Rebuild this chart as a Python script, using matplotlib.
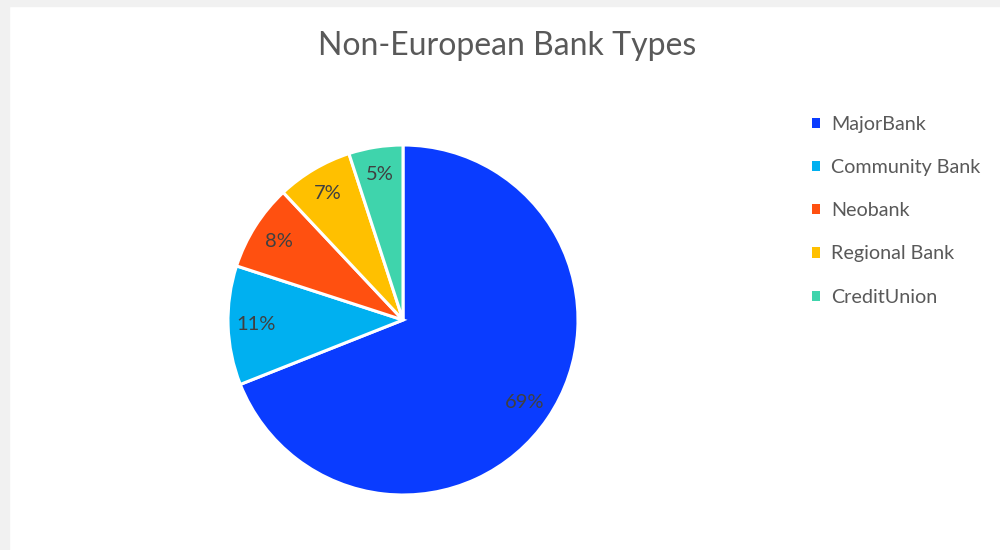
import matplotlib
matplotlib.use("Agg")
import matplotlib.pyplot as plt
from matplotlib.patches import Rectangle, Patch

categories = ["MajorBank", "CommunityBank", "Neobank", "RegionalBank", "CreditUnion"]
legend_labels = ["MajorBank", "Community Bank", "Neobank", "Regional Bank", "CreditUnion"]
values = [69, 11, 8, 7, 5]
colors = ["#0a3cff", "#00b0f0", "#ff5010", "#ffc000", "#3fd4ac"]

plt.rcParams['font.family'] = ['Lato', 'DejaVu Sans']

fig = plt.figure(figsize=(10, 5.5), dpi=100)
fig.patch.set_facecolor("white")
# gray frame at top and left
fig.add_artist(Rectangle((0, 0), 0.009, 1, transform=fig.transFigure, color="#f1f1f1", zorder=0))
fig.add_artist(Rectangle((0, 1 - 6/550), 1, 6/550, transform=fig.transFigure, color="#f1f1f1", zorder=0))

ax = fig.add_axes([0.228, 0.1, 0.35, 350/550])
wedges, texts, autotexts = ax.pie(
    values, colors=colors, startangle=90, counterclock=False,
    autopct=lambda p: f"{p:.0f}%", pctdistance=0.84,
    wedgeprops=dict(edgecolor="white", linewidth=2.2),
    textprops=dict(color="#404040", fontsize=14.5),
)
ax.set_xlim(-1, 1)
ax.set_ylim(-1, 1)
ax.set_aspect("equal")

fig.text(0.507, 1 - 46/550, "Non-European Bank Types", ha="center", va="center",
         fontsize=23, color="#595959")

handles = [Patch(facecolor=c, edgecolor="none") for c in colors]
fig.legend(handles, legend_labels, loc="upper left", bbox_to_anchor=(0.794, 1 - 98/550),
           frameon=False, fontsize=14.2, labelcolor="#595959", handlelength=0.42,
           handleheight=0.42, handletextpad=0.55, labelspacing=1.33)

fig.savefig("out.png", dpi=100, facecolor="white")
